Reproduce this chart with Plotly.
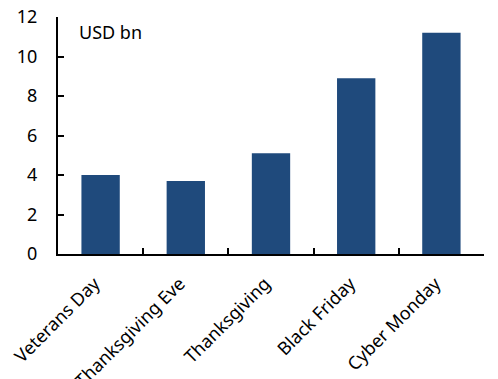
import plotly.graph_objects as go

categories = ["Veterans Day", "Thanksgiving Eve", "Thanksgiving", "Black Friday", "Cyber Monday"]
values = [4.0, 3.7, 5.1, 8.9, 11.2]
y_ticks = [0, 2, 4, 6, 8, 10, 12]

fig = go.Figure(go.Bar(x=categories, y=values, marker_color="#1F4A7C", marker_line_width=0))

fig.update_layout(
    width=498, height=379,
    margin=dict(l=58, r=14, t=17, b=125, autoexpand=False),
    paper_bgcolor="white", plot_bgcolor="white",
    font=dict(family="Noto Sans", size=18, color="black"),
    bargap=0.55,
    showlegend=False,
    annotations=[dict(text="USD bn", xref="paper", yref="paper", x=0.045, y=0.995,
                      xanchor="left", yanchor="top", showarrow=False,
                      font=dict(size=18, family="Noto Sans"))],
)
fig.update_xaxes(showline=True, linecolor="black", linewidth=2, ticks="inside",
                 tickson="boundaries", ticklen=6, tickcolor="black", tickwidth=2,
                 tickangle=-45, showgrid=False, automargin=False,
                 ticklabelstandoff=10, ticklabelshift=-6)
fig.update_yaxes(range=[0, 12], tickvals=y_ticks, showline=True, linecolor="black",
                 linewidth=2, ticks="inside", ticklen=6, tickcolor="black", tickwidth=2,
                 showgrid=False, zeroline=False, automargin=False, ticklabelstandoff=15)

fig.write_html("out.html")
